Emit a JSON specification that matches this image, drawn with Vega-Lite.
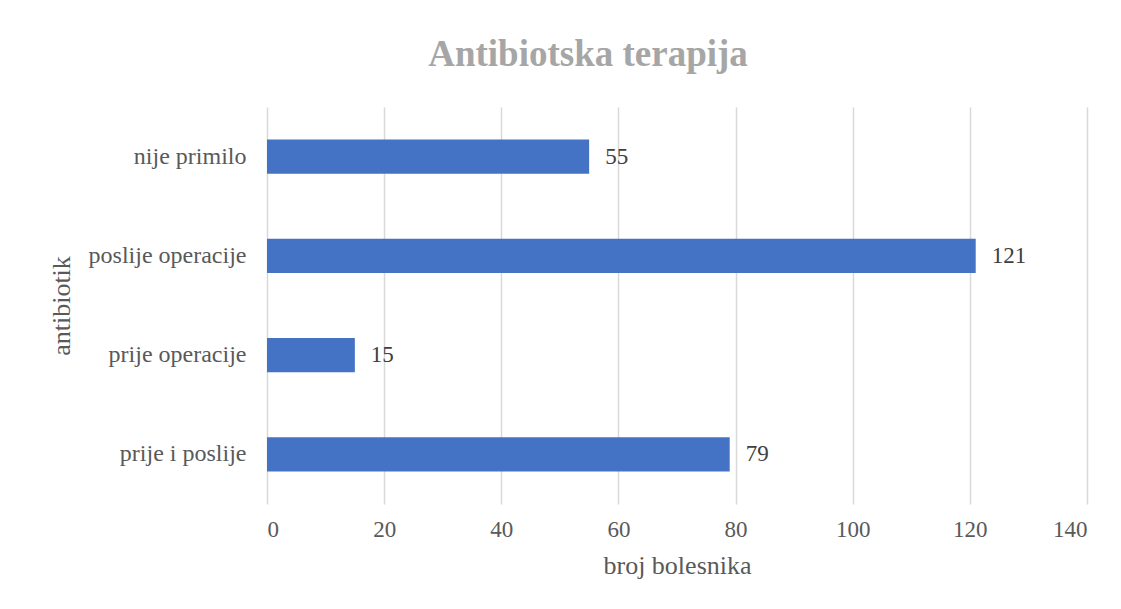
{
  "$schema": "https://vega.github.io/schema/vega-lite/v6.json",
  "width": 820,
  "height": 397,
  "autosize": {"type": "none"},
  "padding": {"left": 267, "top": 107, "right": 34, "bottom": 105},
  "background": "white",
  "title": {
    "text": "Antibiotska terapija",
    "font": "Times New Roman, Liberation Serif, serif",
    "fontSize": 37,
    "fontWeight": "bold",
    "color": "#A6A6A6",
    "anchor": "middle",
    "dx": -89,
    "offset": 33
  },
  "data": {
    "values": [
      {"antibiotik": "nije primilo", "broj": 55},
      {"antibiotik": "poslije operacije", "broj": 121},
      {"antibiotik": "prije operacije", "broj": 15},
      {"antibiotik": "prije i poslije", "broj": 79}
    ]
  },
  "encoding": {
    "y": {
      "field": "antibiotik",
      "type": "nominal",
      "sort": ["nije primilo", "poslije operacije", "prije operacije", "prije i poslije"],
      "scale": {"paddingInner": 0.655, "paddingOuter": 0.3275},
      "axis": {
        "title": "antibiotik",
        "domain": false,
        "ticks": false,
        "labelPadding": 21,
        "labelFont": "Times New Roman, Liberation Serif, serif",
        "labelFontSize": 24,
        "labelColor": "#595959",
        "titleFont": "Times New Roman, Liberation Serif, serif",
        "titleFontSize": 26,
        "titleFontWeight": "normal",
        "titleColor": "#595959",
        "titlePadding": 14
      }
    },
    "x": {
      "field": "broj",
      "type": "quantitative",
      "scale": {"domain": [0, 140], "nice": false},
      "axis": {
        "title": "broj bolesnika",
        "values": [0, 20, 40, 60, 80, 100, 120, 140],
        "domain": false,
        "ticks": false,
        "grid": true,
        "gridColor": "#D9D9D9",
        "gridWidth": 1.5,
        "labelPadding": 14,
        "labelFont": "Times New Roman, Liberation Serif, serif",
        "labelFontSize": 23,
        "labelColor": "#595959",
        "titleFont": "Times New Roman, Liberation Serif, serif",
        "titleFontSize": 26,
        "titleFontWeight": "normal",
        "titleColor": "#595959",
        "titlePadding": 11
      }
    }
  },
  "layer": [
    {"mark": {"type": "bar", "color": "#4472C4"}},
    {
      "mark": {
        "type": "text",
        "align": "left",
        "dx": 16,
        "font": "Times New Roman, Liberation Serif, serif",
        "fontSize": 23,
        "color": "#404040"
      },
      "encoding": {"text": {"field": "broj", "type": "quantitative"}}
    }
  ],
  "config": {"view": {"stroke": null}}
}
